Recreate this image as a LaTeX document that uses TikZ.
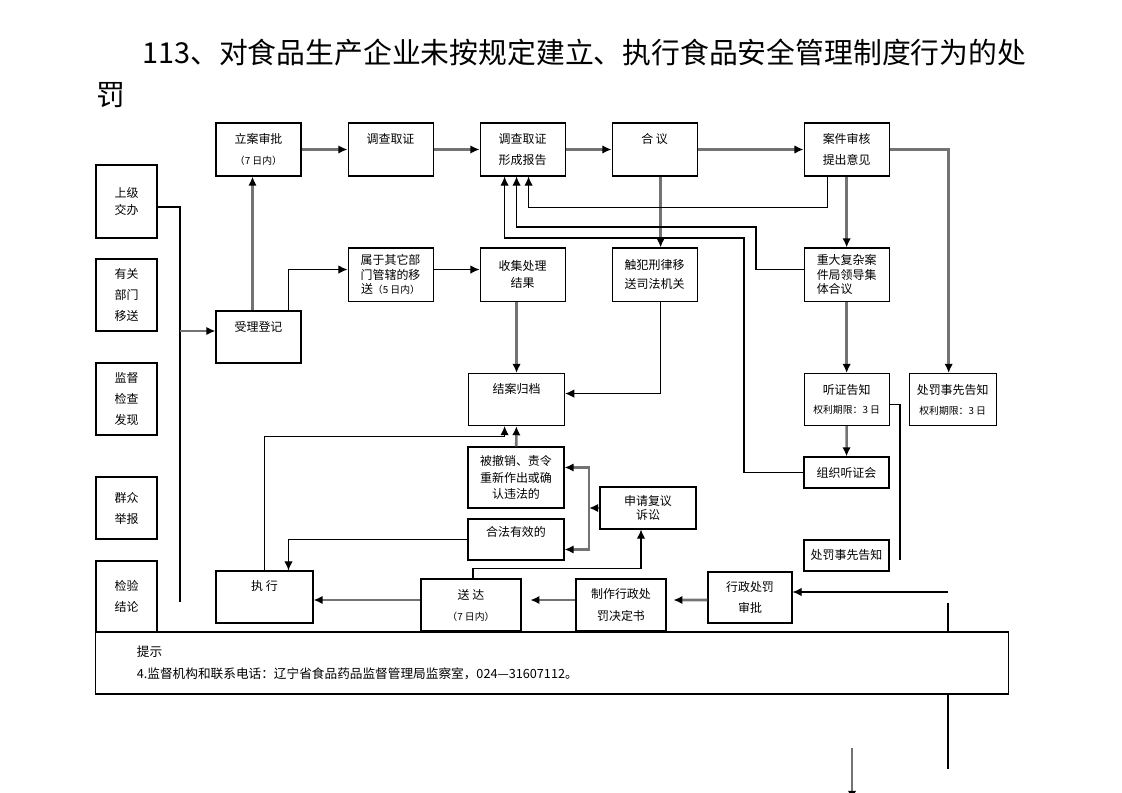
\documentclass[tikz,border=0pt]{standalone}
\usepackage{fontspec}
\setmainfont{Noto Sans CJK SC}
\usetikzlibrary{arrows.meta, calc, positioning}

\begin{document}
\begin{tikzpicture}[x=0.025cm, y=-0.025cm, node distance=3.3cm, >={Latex[length=6.5pt, width=6pt, color=black]}]

    % Define styles
    \tikzstyle{box} = [rectangle, draw=black, line width=0.75pt, minimum width=2.125cm, minimum height=1.325cm, inner sep=1pt, align=center, font=\fontsize{8.5}{15}\selectfont]
    \tikzstyle{src} = [box, minimum width=1.525cm, minimum height=1.8cm]
    \tikzstyle{tight} = [font=\fontsize{8.5}{10.5}\selectfont]
    \tikzstyle{gline} = [draw=black!55, line width=1.8pt]
    \tikzstyle{bline} = [draw=black, line width=0.8pt]

    \useasboundingbox (0,0) rectangle (1122,793);

    % Title
    \node (title) [anchor=west, inner sep=0pt, font=\fontsize{20.5}{20.5}\selectfont] at (142,52) {113、对食品生产企业未按规定建立、执行食品安全管理制度行为的处};
    \node (title2) [anchor=west, inner sep=0pt, font=\fontsize{20.5}{20.5}\selectfont] at (96,95) {罚};

    % Nodes
    \node (lian) [box] at (258.5,149.5) {立案审批\\{\fontsize{7}{7}\selectfont （7 日内）}};
    \node (diaocha) [box, right of=lian] {调查取证\\\vphantom{调}};
    \node (baogao) [box, right of=diaocha] {调查取证\\形成报告};
    \node (heyi) [box, right of=baogao] {合\ 议\\\vphantom{合}};
    \node (shenhe) [box, right of=heyi, xshift=1.5cm] {案件审核\\提出意见};

    \node (shangji) [src, minimum height=1.825cm, font=\fontsize{8.5}{12}\selectfont] at (126.5,201.5) {上级\\交办};
    \node (youguan) [src] at (126.5,295) {有关\\部门\\移送};
    \node (jiandu) [src] at (126.5,399) {监督\\检查\\发现};
    \node (qunzhong) [src, minimum height=1.55cm] at (126.5,508) {群众\\举报};
    \node (jianyan) [src, minimum height=1.775cm] at (126.5,596.5) {检验\\结论};

    \node (shouli) [box, minimum height=1.3cm] at (258.5,337) {受理登记\\\vphantom{受}};
    \node (shuyu) [box, tight, below of=diaocha, yshift=0.175cm] {属于其它部\\门管辖的移\\送{\fontsize{7}{7}\selectfont （5 日内）}};
    \node (shouji) [box, right of=shuyu, font=\fontsize{8.5}{12}\selectfont] {收集处理\\结果};
    \node (chufan) [box, right of=shouji, font=\fontsize{8.5}{14}\selectfont] {触犯刑律移\\送司法机关};
    \node (zhongda) [box, tight, align=left, below of=shenhe, yshift=0.175cm] {重大复杂案\\件局领导集\\体合议};

    \node (tingzheng) [box, minimum height=1.3cm, font=\fontsize{8.5}{13.5}\selectfont, below of=zhongda, yshift=0.175cm] {听证告知\\{\fontsize{7}{7}\selectfont 权利期限：3 日}};
    \node (gaozhiR) [box, minimum width=2.175cm, minimum height=1.3cm, font=\fontsize{8.5}{14}\selectfont, right of=tingzheng, xshift=-0.65cm] {处罚事先告知\\{\fontsize{7}{7}\selectfont 权利期限：3 日}};
    \node (zuzhi) [box, minimum height=0.775cm] at (846.5,472.5) {组织听证会};
    \node (gaozhiM) [box, minimum height=0.775cm] at (846.5,555.5) {处罚事先告知};

    \node (jiean) [box, minimum width=2.4cm, minimum height=1.3cm, below of=shouji, xshift=-0.15cm, yshift=0.175cm] {结案归档\\\vphantom{结}};
    \node (chexiao) [box, minimum width=2.4cm, minimum height=1.525cm, font=\fontsize{8.5}{11.5}\selectfont] at (516,477.5) {被撤销、责令\\重新作出或确\\认违法的};
    \node (hefa) [box, minimum width=2.4cm, minimum height=1.025cm, font=\fontsize{8.5}{11}\selectfont] at (516,539.5) {合法有效的\\\vphantom{合}};
    \node (fuyi) [box, minimum width=2.4cm, minimum height=1.05cm, tight] at (648,508) {申请复议\\诉讼};

    \node (zhixing) [box, minimum width=2.425cm, minimum height=1.3cm] at (264.5,597) {执\ 行\\\vphantom{执}};
    \node (songda) [box, minimum width=2.5cm, minimum height=1.3cm] at (471,605) {送\ 达\\{\fontsize{7}{7}\selectfont （7 日内）}};
    \node (zhizuo) [box, minimum width=2.25cm, minimum height=1.3cm] at (621,605) {制作行政处\\罚决定书};
    \node (shenpi) [box, minimum width=2.1cm, minimum height=1.275cm] at (750,597.5) {行政处罚\\审批};

    \node (tishi) [box, minimum width=22.8cm, minimum height=1.55cm, align=left, text width=20.75cm, inner xsep=0pt, font=\fontsize{9}{16}\selectfont] at (552,663) {提示\\4.监督机构和联系电话：辽宁省食品药品监督管理局监察室，024—31607112。};

    % Arrows
    \draw [->, gline] (lian) -- (diaocha);
    \draw [->, gline] (diaocha) -- (baogao);
    \draw [->, gline] (baogao) -- (heyi);
    \draw [->, gline] (heyi) -- (shenhe);
    \draw [->, gline] ($(heyi.south)+(6,0)$) -- ($(chufan.north)+(6,0)$);
    \draw [->, gline] (shenhe) -- (zhongda);
    \draw [->, gline] (zhongda) -- (tingzheng);
    \draw [->, gline] (tingzheng) -- (zuzhi);
    \draw [->, gline] (shenhe.east) -| ($(gaozhiR.north)+(-4,0)$);

    \coordinate (bus) at (180,602);
    \coordinate (busin) at (180,331);
    \draw [bline] ($(shangji.east)+(0,5.5)$) -| (bus);
    \draw [->, gline] (busin) -- (busin -| shouli.west);
    \draw [->, gline] ($(shouli.north)+(-6,0)$) -- ($(lian.south)+(-6,0)$);
    \draw [->, bline] ($(shouli.north)+(30,0)$) |- ($(shuyu.west)+(0,-5)$);
    \draw [->, bline] ($(shuyu.east)+(0,-5)$) -- ($(shouji.west)+(0,-5)$);
    \draw [->, gline] (shouji.south -| jiean.north) -- (jiean.north);
    \draw [->, bline] ($(chufan.south)+(6,0)$) |- ($(jiean.east)+(0,-6)$);

    % back to the report
    \draw [->, bline] ($(shenhe.south west)+(24,0)$) -- ++(0,31) -| ($(baogao.south)+(6,0)$);
    \draw [->, bline] ($(zhongda.west)+(0,-5)$) -| (756,227) -| ($(baogao.south)+(-6,0)$);
    \draw [->, bline] (zuzhi.west) -| (744,238) -| ($(baogao.south)+(-18,0)$);
    \coordinate (tzend) at (900,560);
    \draw [bline] ($(tingzheng.east)+(0,5)$) -| (tzend);

    % review and execution
    \draw [->, gline] (chexiao) -- (jiean);
    \draw [->, bline] (zhixing.north) |- ($(jiean.south)+(-12,10)$) -- ($(jiean.south)+(-12,0)$);
    \draw [->, bline] (hefa.west) -| ($(zhixing.north)+(24,0)$);
    \coordinate (fork) at (589,508);
    \draw [->, gline] (fuyi.west) -- (fork);
    \draw [->, gline] (fork) |- ($(chexiao.east)+(0,-10)$);
    \draw [->, gline] (fork) |- ($(hefa.east)+(0,10)$);
    \draw [->, bline] ($(songda.north)+(2,0)$) -- ++(0,-10) -| ($(fuyi.south)+(-7,0)$);
    \draw [->, gline, shorten >=0.17cm] ($(shenpi.west)+(0,2.5)$) -- ($(zhizuo.east)+(0,-5)$);
    \draw [->, gline, shorten >=0.22cm] ($(zhizuo.west)+(0,-5)$) -- ($(songda.east)+(0,-5)$);
    \draw [->, gline] ($(songda.west)+(0,-5)$) -- ($(songda.west -| zhixing.east)+(0,-5)$);

    % right edge
    \coordinate (r1) at (948,592);
    \draw [->, bline] (r1) -- (r1 -| shenpi.east);
    \coordinate (r2) at (948,603);
    \draw [bline] (r2) -- (r2 |- tishi.north);
    \draw [bline] (r2 |- tishi.south) -- ++(0,74);
    \coordinate (r3) at (852,748);
    \draw [->, gline] (r3) -- ++(0,52);

\end{tikzpicture}
\end{document}
